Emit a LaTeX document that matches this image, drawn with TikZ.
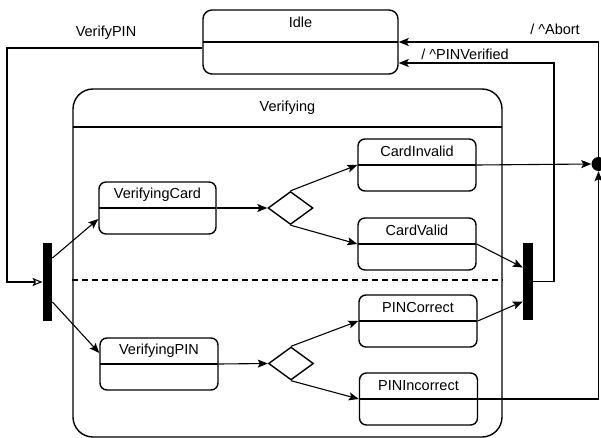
\documentclass[tikz,border=0pt]{standalone}
\usepackage{fontspec}
\setmainfont{Liberation Sans}
\usetikzlibrary{shapes.geometric,arrows.meta,calc}
\begin{document}
\begin{tikzpicture}[x=1pt,y=-1pt,
  font=\fontsize{14.5}{17}\selectfont,
  box/.style={draw, line width=1.4pt, inner sep=0pt},
  substate/.style={box, rounded corners=7pt, minimum width=118pt, minimum height=52pt,
     path picture={\draw[line width=1.4pt] (path picture bounding box.west) -- (path picture bounding box.east);},
     label={[anchor=center,yshift=-13pt]north:#1}},
  bar/.style={fill=black, draw=none, inner sep=0pt, minimum width=9.5pt, minimum height=78pt},
  choice/.style={box, diamond, minimum width=45pt, minimum height=33pt},
  junction/.style={fill=black, circle, inner sep=0pt, minimum size=14pt},
  conn/.style={line width=1.1pt, -{Stealth[length=10pt,width=8pt,inset=2pt]}},
  openconn/.style={line width=1.1pt, -{Stealth[length=10pt,width=8pt,inset=2pt,open]}},
  lbl/.style={inner sep=0pt}
]
\useasboundingbox (0,0) rectangle (601,438);
\begin{scope}
\clip (0,0) rectangle (601,438);
% Idle
\node[substate=Idle, rounded corners=9pt, minimum width=195pt, minimum height=64pt] (idle) at (300.5,42) {};

% Verifying composite
\node[box, rounded corners=20pt, minimum width=429pt, minimum height=348pt,
  path picture={\draw[line width=1.4pt] ([yshift=-38pt]path picture bounding box.north west) -- ([yshift=-38pt]path picture bounding box.north east);},
  label={[anchor=center,yshift=-19pt]north:Verifying}] (verifying) at (287.5,263) {};

% substates
\node[substate=VerifyingCard, minimum width=117pt] (vc) at (157.5,208) {};
\node[substate=VerifyingPIN] (vp) at (159,364) {};
\node[substate=CardInvalid] (ci) at (417,165) {};
\node[substate=CardValid] (cv) at (417,244) {};
\node[substate=PINCorrect] (pc) at (418,321) {};
\node[substate=PINIncorrect] (pi) at (418.5,399) {};

% choice points
\node[choice] (d1) at (290.5,208) {};
\node[choice] (d2) at (291,363.5) {};

% fork / join bars and junction
\node[bar] (fork) at (47.5,282) {};
\node[bar, minimum width=10pt, minimum height=77pt] (join) at (528,281.5) {};
\node[junction] (dot) at (598.5,164) {};

% dashed region separator
\draw[line width=1.4pt, dash pattern=on 6pt off 4pt] (verifying.west |- 0,280) -- (verifying.east |- 0,280);

% helper corners
\coordinate (vpc) at (7,48);
\coordinate (pvc) at (554,63);

% transitions
\draw[openconn] ([yshift=-6pt]idle.west) -- (vpc) |- (fork.west);
\draw[conn] ([yshift=24pt]fork.east) -- ([yshift=-11pt]vc.west);
\draw[conn] ([yshift=-20pt]fork.east) -- ([yshift=11pt]vp.west);
\draw[conn] (vc.east) -- (d1.west);
\draw[conn] (d1.north) -- (ci.west);
\draw[conn] (d1.south) -- (cv.west);
\draw[conn] (vp.east) -- (d2.west);
\draw[conn] (d2.north) -- (pc.west);
\draw[conn] (d2.south) -- (pi.west);
\draw[conn] (cv.east) -- ([yshift=14pt]join.west);
\draw[conn] (pc.east) -- ([yshift=-20pt]join.west);
\draw[conn] (ci.east) -- (dot.west);
\draw[conn] (pi.east) -| (dot.south);
\draw[conn] (dot.north) |- (idle.east);
\draw[conn] (join.east) -| (pvc) -- ([yshift=-21pt]idle.east);

% labels
\node[lbl] (lverify) at (106,33) {VerifyPIN};
\node[lbl] (labort) at (555,29) {/ \textasciicircum Abort};
\node[lbl] (lpinv) at (465,54) {/ \textasciicircum PINVerified};
\end{scope}
\end{tikzpicture}
\end{document}
